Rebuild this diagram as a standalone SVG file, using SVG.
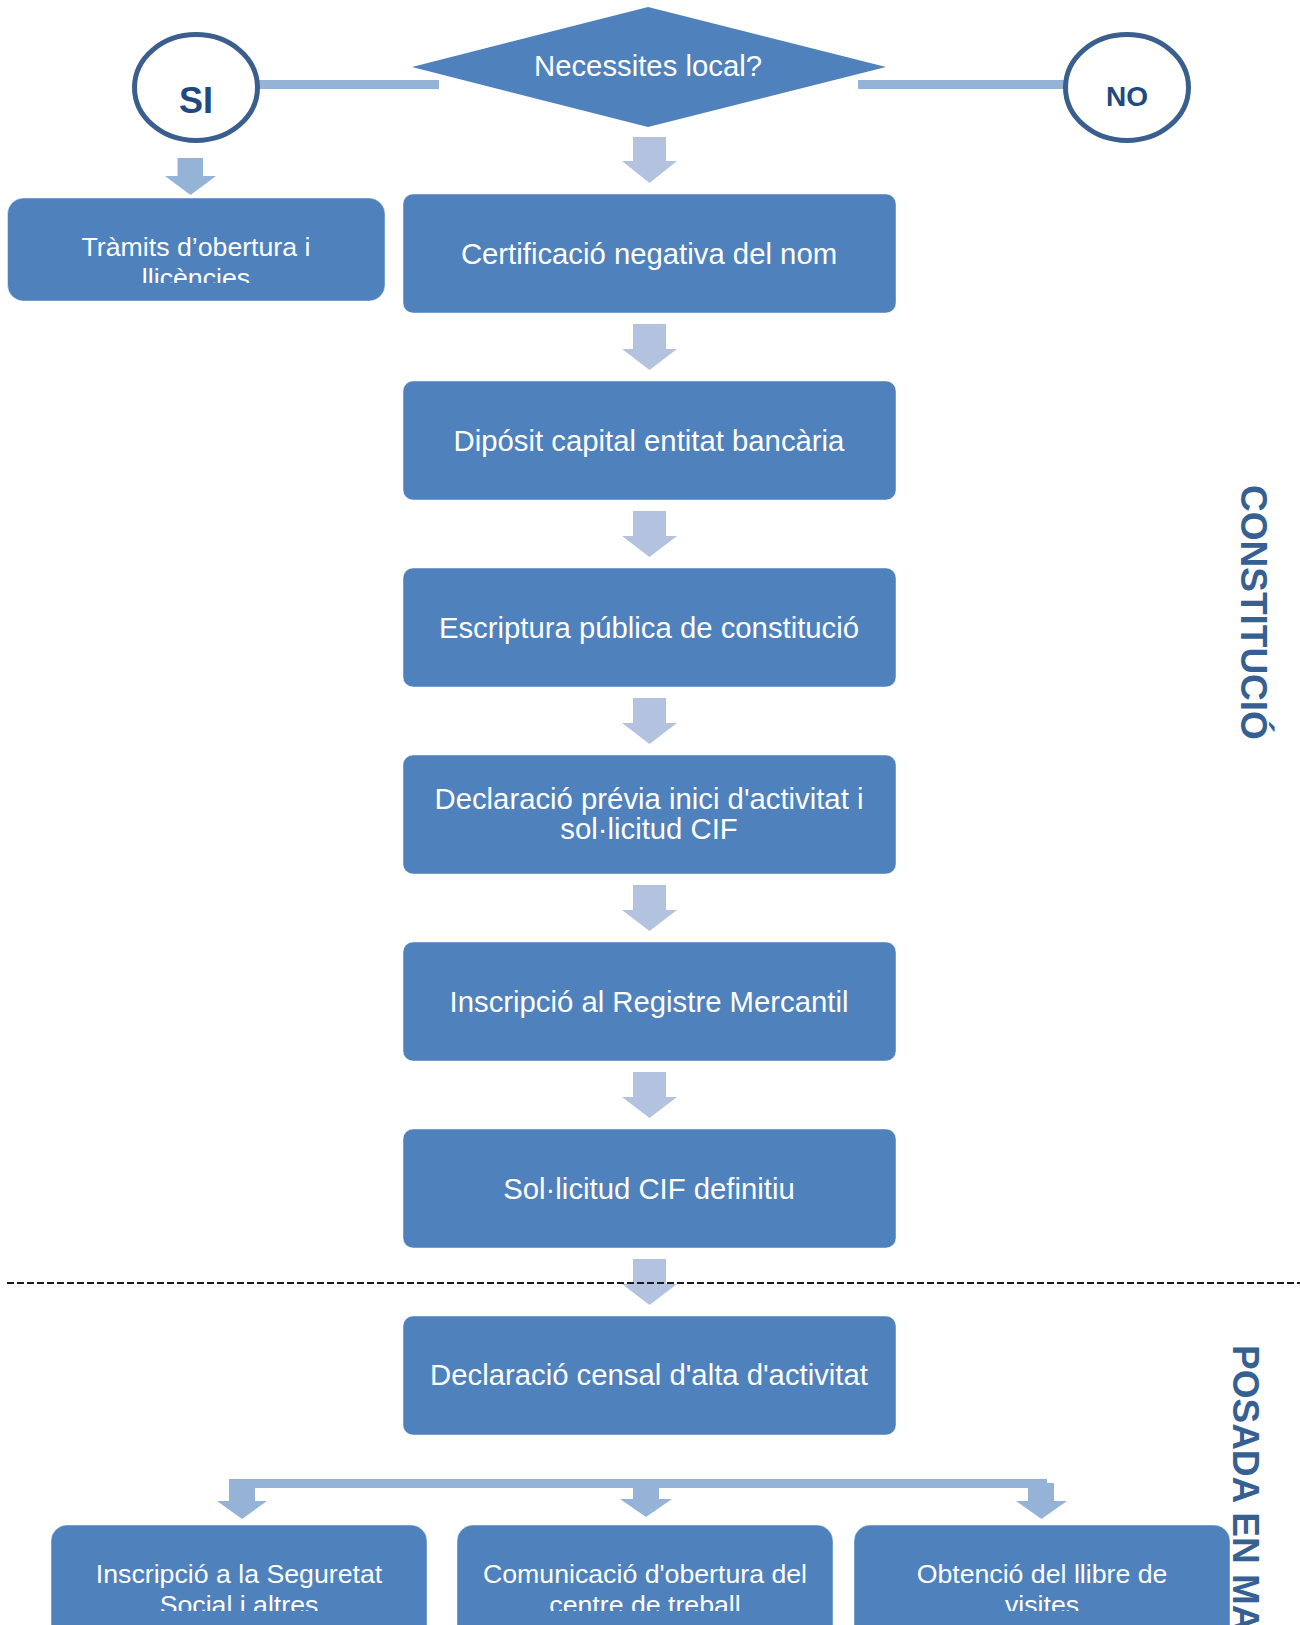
<svg xmlns="http://www.w3.org/2000/svg" width="1300" height="1625" viewBox="0 0 1300 1625">
<style>
.box{fill:#4F81BD;stroke:#FFFFFF;stroke-opacity:0.45;stroke-width:1}
.t{font-family:"Liberation Sans",Arial,sans-serif;fill:#FFFFFF;text-anchor:middle}
.big{font-size:29.3px}
.sm{font-size:26.7px}
.marr{fill:#B3C3DF}
.larr{fill:#95B3D7}
.oval{fill:#FFFFFF;stroke:#3A5F8E;stroke-width:5}
.ovt{font-family:"Liberation Sans",Arial,sans-serif;font-weight:bold;fill:#22497F;text-anchor:middle}
.side{font-family:"Liberation Sans",Arial,sans-serif;font-weight:bold;font-size:37px;fill:#376092}
</style>
<defs>
<clipPath id="clipTramits"><rect x="7" y="198" width="378" height="85"/></clipPath>
<clipPath id="clipBottom"><rect x="0" y="1524" width="1300" height="87"/></clipPath>
</defs>

<g id="connectors">
<rect class="larr" x="258" y="80" width="181" height="9"/>
<rect class="larr" x="858" y="80" width="207" height="9"/>
<rect class="larr" x="177.5" y="158" width="25.5" height="18"/>
<polygon class="larr" points="165,176 216,176 190.5,195"/>
<g class="marr">
<rect x="633" y="137" width="33" height="24"/><polygon points="622,161 677,161 649.5,183"/>
<rect x="633" y="324" width="33" height="25"/><polygon points="622,349 677,349 649.5,370"/>
<rect x="633" y="511" width="33" height="25"/><polygon points="622,536 677,536 649.5,557"/>
<rect x="633" y="698" width="33" height="25"/><polygon points="622,723 677,723 649.5,744"/>
<rect x="633" y="885" width="33" height="25"/><polygon points="622,910 677,910 649.5,931"/>
<rect x="633" y="1072" width="33" height="25"/><polygon points="622,1097 677,1097 649.5,1118"/>
<rect x="633" y="1259" width="33" height="25"/><polygon points="622,1284 677,1284 649.5,1305"/>
</g>
<rect class="larr" x="229" y="1479" width="818" height="9"/>
<rect class="larr" x="229" y="1479" width="26" height="22"/>
<polygon class="larr" points="217,1501 267,1501 242,1519"/>
<rect class="larr" x="633" y="1486" width="26" height="13"/>
<polygon class="larr" points="620,1499 672,1499 646,1517"/>
<rect class="larr" x="1028" y="1483" width="26" height="18"/>
<polygon class="larr" points="1016,1501 1067,1501 1041.5,1519"/>
<line x1="7" y1="1283" x2="1300" y2="1283" stroke="#1A1A1A" stroke-width="1.8" stroke-dasharray="7 3"/>
</g>

<g id="decision">
<polygon points="412,67 648,7 886,67 648,127" fill="#4F81BD"/>
<text class="t big" x="648" y="76">Necessites local?</text>
</g>
<g id="si">
<ellipse class="oval" cx="196" cy="87.5" rx="61.5" ry="53"/>
<text class="ovt" x="196" y="112.5" font-size="36">SI</text>
</g>
<g id="no">
<ellipse class="oval" cx="1127" cy="87.5" rx="61.5" ry="53"/>
<text class="ovt" x="1127" y="106" font-size="28">NO</text>
</g>

<g id="tramits">
<rect class="box" x="7.5" y="198" width="377.5" height="103" rx="16"/>
<g clip-path="url(#clipTramits)">
<text class="t sm" x="196" y="256">Tràmits d’obertura i</text>
<text class="t sm" x="196" y="286.5">llicències</text>
</g>
</g>

<g id="certificacio">
<rect class="box" x="403" y="194" width="493" height="119" rx="10"/>
<text class="t big" x="649" y="263.5">Certificació negativa del nom</text>
</g>
<g id="diposit">
<rect class="box" x="403" y="381" width="493" height="119" rx="10"/>
<text class="t big" x="649" y="450.5">Dipósit capital entitat bancària</text>
</g>
<g id="escriptura">
<rect class="box" x="403" y="568" width="493" height="119" rx="10"/>
<text class="t big" x="649" y="637.5">Escriptura pública de constitució</text>
</g>
<g id="declaracio-previa">
<rect class="box" x="403" y="755" width="493" height="119" rx="10"/>
<text class="t big" x="649" y="809">Declaració prévia inici d'activitat i</text>
<text class="t big" x="649" y="839">sol·licitud CIF</text>
</g>
<g id="registre">
<rect class="box" x="403" y="942" width="493" height="119" rx="10"/>
<text class="t big" x="649" y="1011.5">Inscripció al Registre Mercantil</text>
</g>
<g id="cif-definitiu">
<rect class="box" x="403" y="1129" width="493" height="119" rx="10"/>
<text class="t big" x="649" y="1198.5">Sol·licitud CIF definitiu</text>
</g>
<g id="declaracio-censal">
<rect class="box" x="403" y="1316" width="493" height="119" rx="10"/>
<text class="t big" x="649" y="1385">Declaració censal d'alta d'activitat</text>
</g>

<g id="seguretat-social">
<rect class="box" x="51" y="1525" width="376" height="130" rx="16"/>
<g clip-path="url(#clipBottom)">
<text class="t sm" x="239" y="1583">Inscripció a la Seguretat</text>
<text class="t sm" x="239" y="1614">Social i altres</text>
</g>
</g>
<g id="comunicacio">
<rect class="box" x="457" y="1525" width="376" height="130" rx="16"/>
<g clip-path="url(#clipBottom)">
<text class="t sm" x="645" y="1583">Comunicació d'obertura del</text>
<text class="t sm" x="645" y="1614">centre de treball</text>
</g>
</g>
<g id="llibre-visites">
<rect class="box" x="854" y="1525" width="376" height="130" rx="16"/>
<g clip-path="url(#clipBottom)">
<text class="t sm" x="1042" y="1583">Obtenció del llibre de</text>
<text class="t sm" x="1042" y="1614">visites</text>
</g>
</g>

<g id="labels">
<text class="side" transform="translate(1241,485) rotate(90)">CONSTITUCIÓ</text>
<text class="side" transform="translate(1233,1345) rotate(90)">POSADA EN MARXA</text>
</g>
</svg>
